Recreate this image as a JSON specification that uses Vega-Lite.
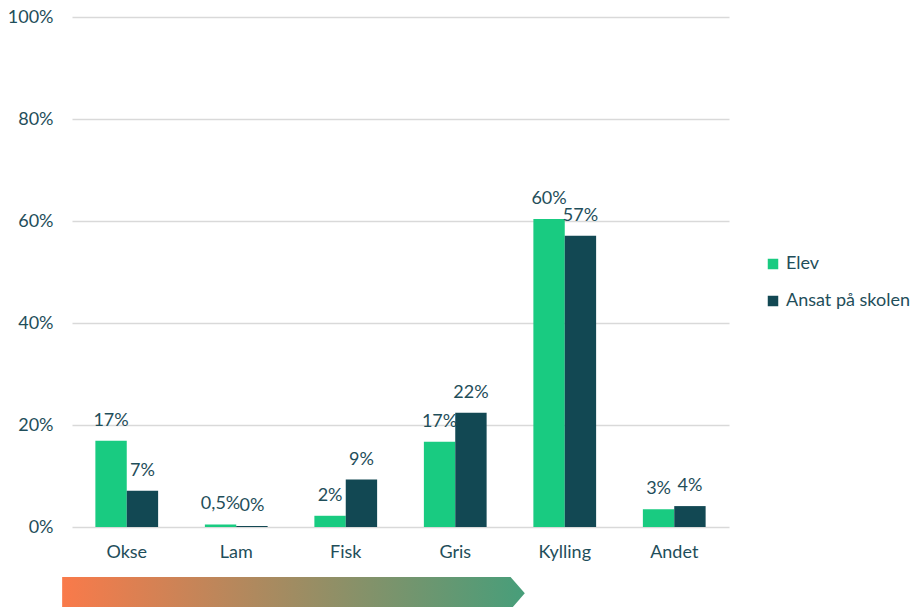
{
  "$schema": "https://vega.github.io/schema/vega-lite/v6.json",
  "width": 657,
  "height": 510,
  "autosize": {"type": "none"},
  "padding": {"left": 72, "top": 17, "right": 182, "bottom": 80},
  "background": "white",
  "config": {
    "view": {"stroke": null},
    "font": "Lato",
    "text": {"font": "Lato"}
  },
  "layer": [
    {
      "data": {
        "values": [
          {"kategori": "Okse", "gruppe": "Elev", "andel": 16.9, "label": "17%"},
          {"kategori": "Okse", "gruppe": "Ansat på skolen", "andel": 7.1, "label": "7%"},
          {"kategori": "Lam", "gruppe": "Elev", "andel": 0.5, "label": "0,5%"},
          {"kategori": "Lam", "gruppe": "Ansat på skolen", "andel": 0.2, "label": "0%"},
          {"kategori": "Fisk", "gruppe": "Elev", "andel": 2.2, "label": "2%"},
          {"kategori": "Fisk", "gruppe": "Ansat på skolen", "andel": 9.3, "label": "9%"},
          {"kategori": "Gris", "gruppe": "Elev", "andel": 16.7, "label": "17%"},
          {"kategori": "Gris", "gruppe": "Ansat på skolen", "andel": 22.4, "label": "22%"},
          {"kategori": "Kylling", "gruppe": "Elev", "andel": 60.4, "label": "60%"},
          {"kategori": "Kylling", "gruppe": "Ansat på skolen", "andel": 57.1, "label": "57%"},
          {"kategori": "Andet", "gruppe": "Elev", "andel": 3.5, "label": "3%"},
          {"kategori": "Andet", "gruppe": "Ansat på skolen", "andel": 4.1, "label": "4%"}
        ]
      },
      "encoding": {
        "x": {
          "field": "kategori",
          "type": "nominal",
          "sort": ["Okse", "Lam", "Fisk", "Gris", "Kylling", "Andet"],
          "scale": {"paddingInner": 0.427, "paddingOuter": 0.2135},
          "axis": {
            "title": null,
            "labelAngle": 0,
            "labelFontSize": 18,
            "labelColor": "#1F4E5A",
            "labelFont": "Lato",
            "labelPadding": 16,
            "domain": false,
            "ticks": false,
            "grid": false
          }
        },
        "xOffset": {
          "field": "gruppe",
          "type": "nominal",
          "sort": ["Elev", "Ansat på skolen"],
          "scale": {"paddingInner": 0, "paddingOuter": 0}
        },
        "y": {
          "field": "andel",
          "type": "quantitative",
          "scale": {"domain": [0, 100]},
          "axis": {
            "title": null,
            "values": [0, 20, 40, 60, 80, 100],
            "labelExpr": "datum.value + '%'",
            "labelFontSize": 18,
            "labelColor": "#1F4E5A",
            "labelFont": "Lato",
            "labelPadding": 19,
            "domain": false,
            "ticks": false,
            "gridColor": "#D9D9D9",
            "gridWidth": 1.5
          }
        }
      },
      "layer": [
        {
          "mark": {"type": "bar"},
          "encoding": {
            "color": {
              "field": "gruppe",
              "type": "nominal",
              "sort": ["Elev", "Ansat på skolen"],
              "scale": {"domain": ["Elev", "Ansat på skolen"], "range": ["#19CB81", "#124853"]},
              "legend": {
                "title": null,
                "orient": "none",
                "legendX": 692,
                "legendY": 238,
                "symbolType": "square",
                "symbolSize": 110,
                "symbolStrokeWidth": 0,
                "labelFontSize": 18,
                "labelFont": "Lato",
                "labelColor": "#1F4E5A",
                "labelOffset": 4,
                "rowPadding": 19
              }
            }
          }
        },
        {
          "mark": {
            "type": "text",
            "baseline": "alphabetic",
            "align": "center",
            "dy": -15,
            "fontSize": 18,
            "font": "Lato",
            "color": "#1F4E5A"
          },
          "encoding": {
            "text": {"field": "label", "type": "nominal"}
          }
        }
      ]
    },
    {
      "data": {
        "values": [
          {"pos": -0.09, "top": -9.8, "bund": -16.2},
          {"pos": 4.005, "top": -9.8, "bund": -16.2},
          {"pos": 4.135, "top": -13.0, "bund": -13.0}
        ]
      },
      "mark": {
        "type": "area",
        "orient": "vertical",
        "clip": false,
        "fill": {
          "gradient": "linear",
          "x1": 0, "y1": 0, "x2": 1, "y2": 0,
          "stops": [
            {"offset": 0, "color": "#F97A4A"},
            {"offset": 1, "color": "#479E7A"}
          ]
        }
      },
      "encoding": {
        "x": {"field": "pos", "type": "quantitative", "scale": {"domain": [0, 6], "nice": false, "zero": false}, "axis": null},
        "y": {"field": "top", "type": "quantitative", "scale": {"domain": [0, 100], "nice": false}, "axis": null},
        "y2": {"field": "bund"}
      }
    }
  ],
  "resolve": {"scale": {"x": "independent", "y": "independent"}}
}
